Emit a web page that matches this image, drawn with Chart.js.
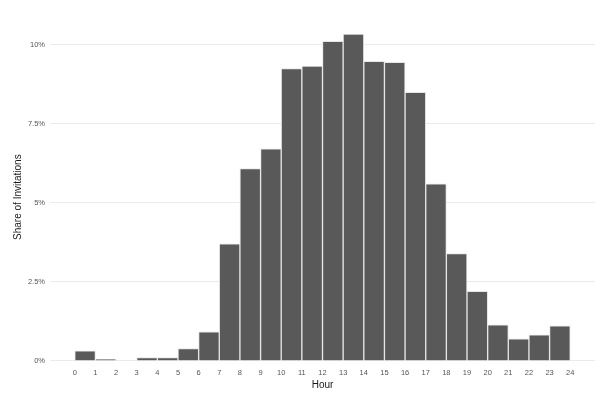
<!DOCTYPE html>
<html>
<head>
<meta charset="utf-8">
<script src="https://cdn.jsdelivr.net/npm/chart.js@4"></script>
<style>
  html, body { margin: 0; padding: 0; background: #fff; }
  #wrap { width: 600px; height: 393px; }
</style>
</head>
<body>
<div id="wrap"><canvas id="myChart"></canvas></div>
<script>
// hour bins 0-1 ... 23-24, share of invitations in %
var hourTicks = [0,1,2,3,4,5,6,7,8,9,10,11,12,13,14,15,16,17,18,19,20,21,22,23,24];
var shareValues = [0.32, 0.05, 0, 0.1, 0.1, 0.39, 0.92, 3.7, 6.08, 6.7, 9.24, 9.32, 10.1, 10.33,
                   9.47, 9.44, 8.49, 5.6, 3.39, 2.2, 1.14, 0.7, 0.82, 1.11];
var yTicks = [0, 2.5, 5, 7.5, 10];
var yTickLabels = ["0%", "2.5%", "5%", "7.5%", "10%"];

var points = shareValues.map(function (v, i) { return { x: hourTicks[i] + 0.5, y: v }; });

var font = "'Liberation Sans', Arial, Helvetica, sans-serif";

new Chart("myChart", {
  type: "bar",
  data: {
    datasets: [{
      data: points,
      backgroundColor: "#595959",
      borderColor: "#e6e6e6",
      borderWidth: 1,
      barPercentage: 1,
      categoryPercentage: 1
    }]
  },
  options: {
    responsive: true,
    maintainAspectRatio: false,
    animation: false,
    layout: { padding: { left: 8, right: 5, top: 17, bottom: 2 } },
    plugins: {
      legend: { display: false },
      tooltip: { enabled: false }
    },
    scales: {
      x: {
        type: "linear",
        offset: false,
        min: -1.2,
        max: 25.2,
        afterBuildTicks: function (scale) {
          scale.ticks = hourTicks.map(function (v) { return { value: v }; });
        },
        grid: { display: false, drawTicks: false },
        border: { display: false },
        ticks: {
          autoSkip: false,
          maxRotation: 0,
          mirror: true,
          padding: -0.3,
          color: "#555",
          font: { family: font, size: 7.5 }
        },
        title: {
          display: true,
          text: "Hour",
          color: "#1a1a1a",
          padding: { top: 2.3, bottom: 0 },
          font: { family: font, size: 10 }
        }
      },
      y: {
        min: -0.52,
        max: 10.87,
        afterBuildTicks: function (scale) {
          scale.ticks = yTicks.map(function (v) { return { value: v }; });
        },
        afterFit: function (scale) { scale.width = 42; },
        grid: { color: "#ebebeb", lineWidth: 1, drawTicks: false },
        border: { display: false },
        ticks: {
          padding: 5,
          color: "#555",
          font: { family: font, size: 7.5 },
          callback: function (v) {
            var i = yTicks.indexOf(v);
            return i >= 0 ? yTickLabels[i] : "";
          }
        },
        title: {
          display: true,
          text: "Share of Invitations",
          color: "#1a1a1a",
          padding: { top: 4, bottom: 2 },
          font: { family: font, size: 10 }
        }
      }
    }
  }
});
</script>
</body>
</html>
